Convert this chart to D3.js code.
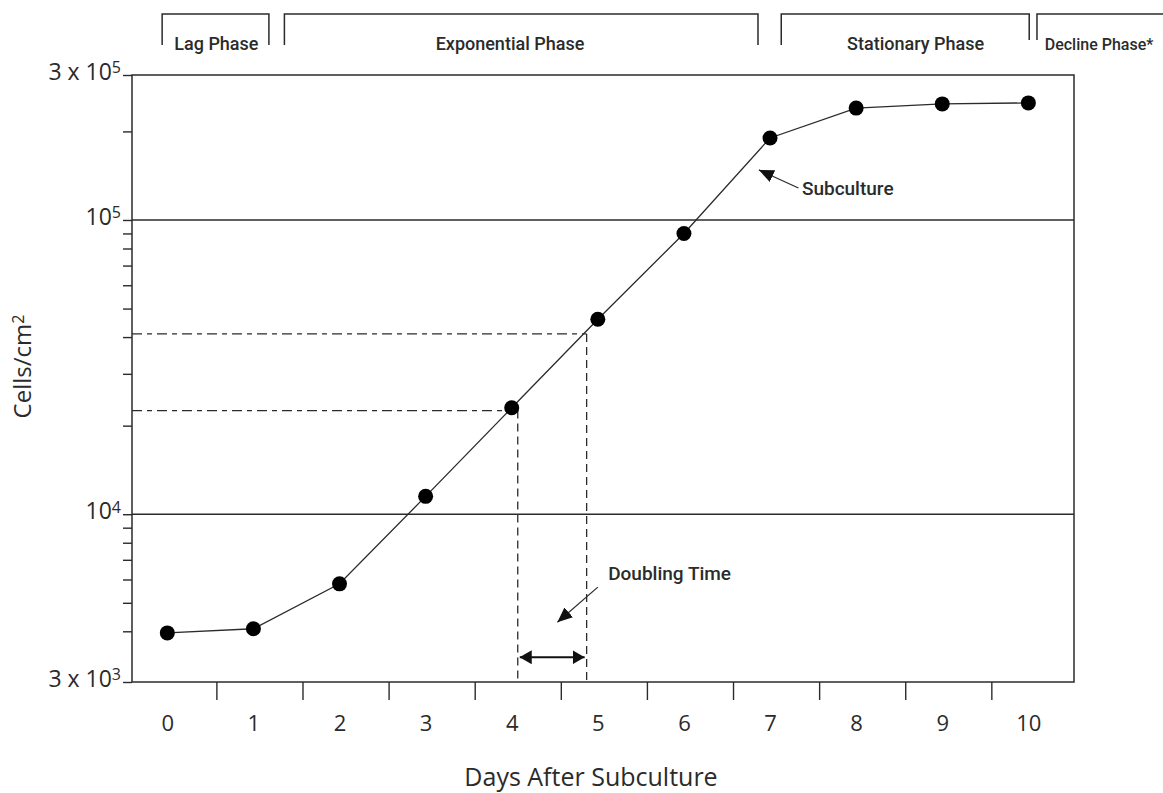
<!DOCTYPE html>
<html>
<head>
<meta charset="utf-8">
<script src="https://cdn.jsdelivr.net/npm/d3@7"></script>
<style>
  body { margin: 0; background: #fff; }
  .narrow { font-family: "Roboto", "Liberation Sans Narrow", sans-serif; font-weight: 500; }
  .plain { font-family: "Open Sans", "Noto Sans", sans-serif; }
</style>
</head>
<body>
<svg id="chart" width="1163" height="793"></svg>
<script>
// values
const days = [0, 1, 2, 3, 4, 5, 6, 7, 8, 9, 10];
const cellsPerCm2 = [3950, 4080, 5800, 11500, 23000, 46000, 90000, 190000, 240000, 248000, 250000];
const dayTickLabels = ["0", "1", "2", "3", "4", "5", "6", "7", "8", "9", "10"];
const dayTickMarks = [0.57, 1.57, 2.57, 3.57, 4.57, 5.57, 6.57, 7.57, 8.57, 9.57];

// the frame ends are labelled 3 x 10^3 / 3 x 10^5
const yMajorTicks = [2690, 1e4, 1e5, 311000];
const yTickBase = ["3 x 10", "10", "10", "3 x 10"];
const yTickExp = ["3", "4", "5", "5"];
const yMinorTicks = [4e3, 5e3, 6e3, 7e3, 8e3, 9e3, 2e4, 3e4, 4e4, 5e4, 6e4, 7e4, 8e4, 9e4, 2e5];
const yGridLines = [1e4, 1e5];

const phaseNames = ["Lag Phase", "Exponential Phase", "Stationary Phase", "Decline Phase*"];
const phaseFrom = [-0.06, 1.36, 7.13, 10.10];
const phaseTo = [1.18, 6.86, 10.01, 11.7];
const phaseLabelAt = [0.57, 3.98, 8.69, 10.19];

const doublingDays = [4.07, 4.87];
const doublingCells = [22500, 41000];

const margin = {top: 75, bottom: 111, left: 132, right: 89};
const width = 1163;
const height = 793;
const ink = "#2b2b2b";

const svg = d3.select("#chart");

const xScale = d3.scaleLinear().domain([-0.41, 10.53]).range([margin.left, width - margin.right]);
const yScale = d3.scaleLog().domain([yMajorTicks[0], yMajorTicks[3]]).range([height - margin.bottom, margin.top]);

const defs = svg.append("defs");
function addArrowHead(id, w, h) {
  defs.append("marker")
    .attr("id", id)
    .attr("viewBox", `0 0 ${w} ${h}`)
    .attr("refX", w).attr("refY", h / 2)
    .attr("markerWidth", w).attr("markerHeight", h)
    .attr("markerUnits", "userSpaceOnUse")
    .attr("orient", "auto-start-reverse")
    .append("path")
    .attr("d", `M0,0L${w},${h / 2}L0,${h}Z`)
    .attr("fill", "#111");
}
addArrowHead("head", 15, 13);
addArrowHead("headSmall", 12, 14);

createPhases();
createAxisY();
createAxisX();
createFrame();
createDoubling();
addLineGraph();
createSubculture();

function createPhases() {
  const g = svg.append("g").attr("class", "phases");
  phaseNames.forEach((name, i) => {
    const x0 = xScale(phaseFrom[i]);
    const x1 = xScale(phaseTo[i]);
    const low = i == 3 ? 40 : 45;
    const lowEnd = i == 2 ? 40 : 45;
    g.append("path")
      .attr("d", `M${x0},${low}V14H${x1}` + (i < 3 ? `V${lowEnd}` : ""))
      .attr("fill", "none")
      .attr("stroke", ink)
      .attr("stroke-width", 1.5);
    g.append("text")
      .attr("class", "narrow")
      .attr("x", xScale(phaseLabelAt[i]))
      .attr("y", 50)
      .attr("text-anchor", i == 3 ? "start" : "middle")
      .attr("font-size", i == 3 ? 16 : 18)   // last one must fit on the page
      .attr("fill", ink)
      .text(name);
  });
}

function createAxisY() {
  const minorAxis = d3.axisLeft(yScale).tickValues(yMinorTicks).tickSize(9).tickFormat("");
  svg.append("g")
    .attr("transform", `translate(${margin.left},0)`)
    .call(minorAxis)
    .call(g => g.select(".domain").remove())
    .selectAll("line").attr("stroke", ink).attr("stroke-width", 1.4);

  const majorAxis = d3.axisLeft(yScale).tickValues(yMajorTicks).tickSize(9).tickPadding(3).tickFormat("");
  const g = svg.append("g")
    .attr("transform", `translate(${margin.left},0)`)
    .call(majorAxis);
  g.select(".domain").remove();
  g.selectAll("line").attr("stroke", ink).attr("stroke-width", 1.4);
  g.selectAll(".tick text").each(function (d, i) {
    const t = d3.select(this)
      .attr("class", "plain")
      .attr("x", -11)
      .attr("dy", "0.2em")
      .attr("font-size", 23)
      .attr("fill", ink);
    t.append("tspan").text(yTickBase[i]);
    t.append("tspan").attr("dy", "-0.42em").attr("font-size", 16).text(yTickExp[i]);
  });

  // gridlines at the decades
  svg.append("g").selectAll("line")
    .data(yGridLines)
    .join("line")
    .attr("x1", margin.left).attr("x2", width - margin.right)
    .attr("y1", d => yScale(d)).attr("y2", d => yScale(d))
    .attr("stroke", ink).attr("stroke-width", 1.4);

  const label = svg.append("text")
    .attr("class", "plain")
    .attr("transform", `translate(31,${(margin.top + height - margin.bottom) / 2 - 12}) rotate(-90)`)
    .attr("text-anchor", "middle")
    .attr("font-size", 24)
    .attr("fill", ink);
  label.append("tspan").text("Cells/cm");
  label.append("tspan").attr("dy", "-0.42em").attr("font-size", 16).text("2");
}

function createAxisX() {
  const marks = d3.axisBottom(xScale).tickValues(dayTickMarks).tickSize(18).tickFormat("");
  svg.append("g")
    .attr("transform", `translate(0,${height - margin.bottom})`)
    .call(marks)
    .call(g => g.select(".domain").remove())
    .selectAll("line").attr("stroke", ink).attr("stroke-width", 1.4);

  const labels = d3.axisBottom(xScale).tickValues(days).tickSize(0).tickPadding(33)
    .tickFormat((d, i) => dayTickLabels[i]);
  svg.append("g")
    .attr("transform", `translate(0,${height - margin.bottom})`)
    .call(labels)
    .call(g => g.select(".domain").remove())
    .selectAll("text")
    .attr("class", "plain")
    .attr("font-size", 22)
    .attr("fill", ink);

  svg.append("text")
    .attr("class", "plain")
    .attr("x", 591)
    .attr("y", 786)
    .attr("text-anchor", "middle")
    .attr("font-size", 25)
    .attr("fill", ink)
    .text("Days After Subculture");
}

function createFrame() {
  svg.append("rect")
    .attr("x", margin.left).attr("y", margin.top)
    .attr("width", width - margin.left - margin.right)
    .attr("height", height - margin.top - margin.bottom)
    .attr("fill", "none")
    .attr("stroke", ink)
    .attr("stroke-width", 1.5);
}

function createDoubling() {
  const g = svg.append("g");
  doublingDays.forEach((d, i) => {
    g.append("line")
      .attr("x1", margin.left).attr("x2", xScale(d))
      .attr("y1", yScale(doublingCells[i])).attr("y2", yScale(doublingCells[i]))
      .attr("stroke", ink).attr("stroke-width", 1.3)
      .attr("stroke-dasharray", "10,5,5,5");
    g.append("line")
      .attr("x1", xScale(d)).attr("x2", xScale(d))
      .attr("y1", yScale(doublingCells[i])).attr("y2", height - margin.bottom)
      .attr("stroke", ink).attr("stroke-width", 1.3)
      .attr("stroke-dasharray", "8,5");
  });

  // double arrow between the two days
  g.append("line")
    .attr("x1", xScale(doublingDays[0]) + 2).attr("x2", xScale(doublingDays[1]) - 2)
    .attr("y1", yScale(3265)).attr("y2", yScale(3265))
    .attr("stroke", "#111").attr("stroke-width", 1.8)
    .attr("marker-start", "url(#headSmall)")
    .attr("marker-end", "url(#headSmall)");

  g.append("line")
    .attr("x1", xScale(5.0)).attr("y1", yScale(5650))
    .attr("x2", xScale(4.53)).attr("y2", yScale(4295))
    .attr("stroke", ink).attr("stroke-width", 1.2)
    .attr("marker-end", "url(#head)");

  g.append("text")
    .attr("class", "narrow")
    .attr("x", xScale(5.12))
    .attr("y", yScale(6295))
    .attr("dy", "0.35em")
    .attr("font-size", 19)
    .attr("fill", ink)
    .text("Doubling Time");
}

function addLineGraph() {
  const points = days.map((d, i) => ({day: d, value: cellsPerCm2[i]}));
  const line = d3.line().x(d => xScale(d.day)).y(d => yScale(d.value));
  svg.append("path")
    .datum(points)
    .attr("d", line)
    .attr("fill", "none")
    .attr("stroke", ink)
    .attr("stroke-width", 1.3);
  svg.append("g").selectAll("circle")
    .data(points)
    .join("circle")
    .attr("cx", d => xScale(d.day))
    .attr("cy", d => yScale(d.value))
    .attr("r", 7.5)
    .attr("fill", "#000");
}

function createSubculture() {
  svg.append("line")
    .attr("x1", xScale(7.33)).attr("y1", yScale(128500))
    .attr("x2", xScale(6.87)).attr("y2", yScale(148000))
    .attr("stroke", ink).attr("stroke-width", 1.2)
    .attr("marker-end", "url(#head)");
  svg.append("text")
    .attr("class", "narrow")
    .attr("x", xScale(7.37))
    .attr("y", yScale(128500))
    .attr("dy", "0.35em")
    .attr("font-size", 19)
    .attr("fill", ink)
    .text("Subculture");
}
</script>
</body>
</html>
